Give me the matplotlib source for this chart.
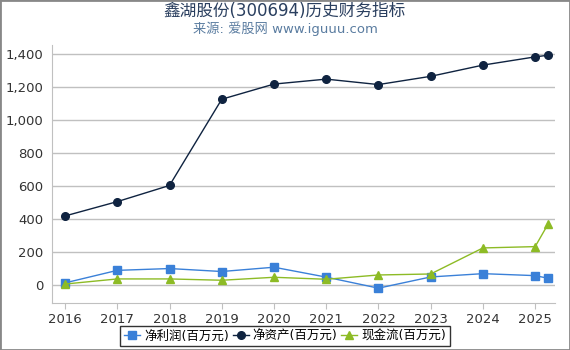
import matplotlib
matplotlib.use("Agg")
import matplotlib.pyplot as plt
from matplotlib.patches import Rectangle

plt.rcParams['font.family'] = ['DejaVu Sans', 'Noto Sans CJK SC']

# data (x in fractional years; last point is the latest quarter)
x = [2016, 2017, 2018, 2019, 2020, 2021, 2022, 2023, 2024, 2025, 2025.25]
net_profit = [12, 88, 99, 81, 107, 47, -20, 48, 68, 56, 40]
net_assets = [418, 505, 603, 1126, 1218, 1248, 1215, 1265, 1333, 1383, 1393]
cash_flow = [5, 36, 36, 28, 46, 34, 60, 66, 224, 232, 370]
years = [2016, 2017, 2018, 2019, 2020, 2021, 2022, 2023, 2024, 2025]

fig = plt.figure(figsize=(5.7, 3.5), dpi=100)
ax = fig.add_axes([52/570, 1 - 303/350, 503/570, 258/350])

ax.plot(x, net_profit, color='#3a80d8', marker='s', markersize=5.5, lw=1, label='净利润(百万元)')
ax.plot(x, net_assets, color='#0f2340', marker='o', markersize=5.5, lw=1, label='净资产(百万元)')
ax.plot(x, cash_flow, color='#8dbb25', marker='^', markersize=5.5, lw=1, label='现金流(百万元)')

ax.set_xlim(2015.75, 2025.38)
ax.set_ylim(-110, 1455)
ax.set_xticks(years)
ax.set_xticklabels([str(y) for y in years])
ax.set_yticks(range(0, 1401, 200))
ax.yaxis.set_major_formatter(matplotlib.ticker.FuncFormatter(lambda v, p: f'{int(v):,}'))
ax.grid(axis='y', color='#c0c0c0', lw=1)
ax.set_axisbelow(True)
for s in ['top', 'right']:
    ax.spines[s].set_visible(False)
for s in ['left', 'bottom']:
    ax.spines[s].set_color('#c0c0c0')
ax.tick_params(axis='y', length=0, labelsize=9.5, colors='#333333', pad=6)
ax.tick_params(axis='x', length=4, color='#c0c0c0', labelsize=9.5, colors='#333333')

fig.text(0.5, 1 - 11/350, '鑫湖股份(300694)历史财务指标', ha='center', va='center',
         fontsize=12, color='#2a3f5f')
fig.text(0.5, 1 - 29/350, '来源: 爱股网 www.iguuu.com', ha='center', va='center',
         fontsize=9.5, color='#5a7ca0')

leg = fig.legend(loc='center', bbox_to_anchor=(0.5, 1 - 336/350), ncol=3, frameon=True,
                 fancybox=False, edgecolor='black', fontsize=9, handlelength=1.3,
                 columnspacing=0.3, handletextpad=0.3, borderpad=0.3, borderaxespad=0)
leg.get_frame().set_linewidth(1)

fig.patches.append(Rectangle((0, 0), 1, 1, transform=fig.transFigure, fill=False,
                             edgecolor='#888888', lw=2))

fig.savefig('out.png', dpi=100)
